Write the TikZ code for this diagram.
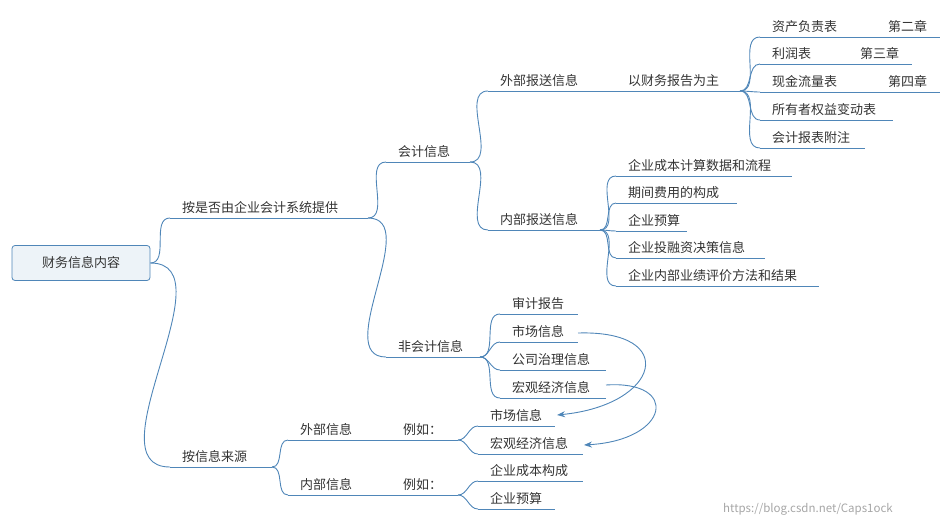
\documentclass[tikz,border=0pt]{standalone}
\usepackage{fontspec}
\setmainfont{Noto Sans CJK SC}
\usetikzlibrary{arrows.meta}
\definecolor{ln}{HTML}{4F86B8}
\definecolor{tx}{HTML}{333333}
\tikzset{
  lnk/.style={draw=ln, line width=0.9pt},
  lbl/.style={anchor=base west, inner sep=0pt, text=tx, font=\fontsize{13}{15}\selectfont},
  cross/.style={draw=ln, line width=0.9pt, -{Stealth[length=8pt,width=6pt]}},
}
\newcommand\mmitem[5]{%
  \coordinate (#1-s) at (#2,#4);
  \coordinate (#1-e) at (#3,#4);
  \node[lbl] (#1-t) at (#2+12,#4-6) {#5};
  \draw[lnk] (#1-s) -- (#1-e);
}
\newcommand\mmlink[2]{\draw[lnk] (#1-e) to[out=0,in=180] (#2-s);}
\begin{document}
\begin{tikzpicture}[x=1pt,y=-1pt]
\useasboundingbox (0,0) rectangle (950,525);
% root
\node[draw=ln, fill=ln!10, rounded corners=3pt, minimum width=138pt, minimum height=35pt, text=tx, font=\fontsize{13}{15}\selectfont, line width=0.8pt] (root) at (81,263) {财务信息内容};
\coordinate (root-e) at (root.east);
\mmitem{a}{170}{368}{218}{按是否由企业会计系统提供}
\mmitem{b}{170}{272}{467}{按信息来源}
\mmlink{root}{a}\mmlink{root}{b}
\mmitem{a1}{386}{470}{162}{会计信息}
\mmitem{a2}{386}{480}{357}{非会计信息}
\mmlink{a}{a1}\mmlink{a}{a2}
\mmitem{ext}{488}{740}{91}{外部报送信息}
\node[lbl] (extt2) at (628,85) {以财务报告为主};
\mmitem{int}{488}{600}{230}{内部报送信息}
\mmlink{a1}{ext}\mmlink{a1}{int}
% financial reports
\mmitem{r1}{760}{940}{37}{资产负责表}
\node[lbl] (r1c) at (888,31) {第二章};
\mmitem{r2}{760}{912}{64}{利润表}
\node[lbl] (r2c) at (860,58) {第三章};
\mmitem{r3}{760}{940}{92}{现金流量表}
\node[lbl] (r3c) at (888,86) {第四章};
\mmitem{r4}{760}{893}{120}{所有者权益变动表}
\mmitem{r5}{760}{865}{148}{会计报表附注}
\foreach \c in {r1,r2,r3,r4,r5}{\mmlink{ext}{\c}}
% internal
\mmitem{i1}{616}{792}{176}{企业成本计算数据和流程}
\mmitem{i2}{616}{737}{203}{期间费用的构成}
\mmitem{i3}{616}{687}{231}{企业预算}
\mmitem{i4}{616}{765}{258}{企业投融资决策信息}
\mmitem{i5}{616}{819}{286}{企业内部业绩评价方法和结果}
\foreach \c in {i1,i2,i3,i4,i5}{\mmlink{int}{\c}}
% non-accounting
\mmitem{n1}{500}{578}{314}{审计报告}
\mmitem{n2}{500}{578}{342}{市场信息}
\mmitem{n3}{500}{606}{370}{公司治理信息}
\mmitem{n4}{500}{606}{398}{宏观经济信息}
\foreach \c in {n1,n2,n3,n4}{\mmlink{a2}{\c}}
% by source
\mmitem{b1}{288}{458}{440}{外部信息}
\node[lbl] (b1x) at (403,434) {例如：};
\mmitem{b2}{288}{458}{495}{内部信息}
\node[lbl] (b2x) at (403,489) {例如：};
\mmlink{b}{b1}\mmlink{b}{b2}
\mmitem{e1}{478}{555}{426}{市场信息}
\mmitem{e2}{478}{583}{454}{宏观经济信息}
\mmitem{d1}{478}{583}{481}{企业成本构成}
\mmitem{d2}{478}{555}{509}{企业预算}
\mmlink{b1}{e1}\mmlink{b1}{e2}\mmlink{b2}{d1}\mmlink{b2}{d2}
% cross links
\coordinate (n2r) at (578,333);
\coordinate (e1r) at (557,415);
\coordinate (n4r) at (606,385);
\coordinate (e2r) at (584,445);
\draw[cross] (n2r) .. controls (680,330) and (660,405) .. (e1r);
\draw[cross] (n4r) .. controls (680,380) and (670,440) .. (e2r);
% watermark
\node[anchor=base west, inner sep=0pt, text=gray!70, font=\fontsize{11.5}{13}\selectfont] (wm) at (723,512) {https://blog.csdn.net/Caps1ock};
\end{tikzpicture}
\end{document}
